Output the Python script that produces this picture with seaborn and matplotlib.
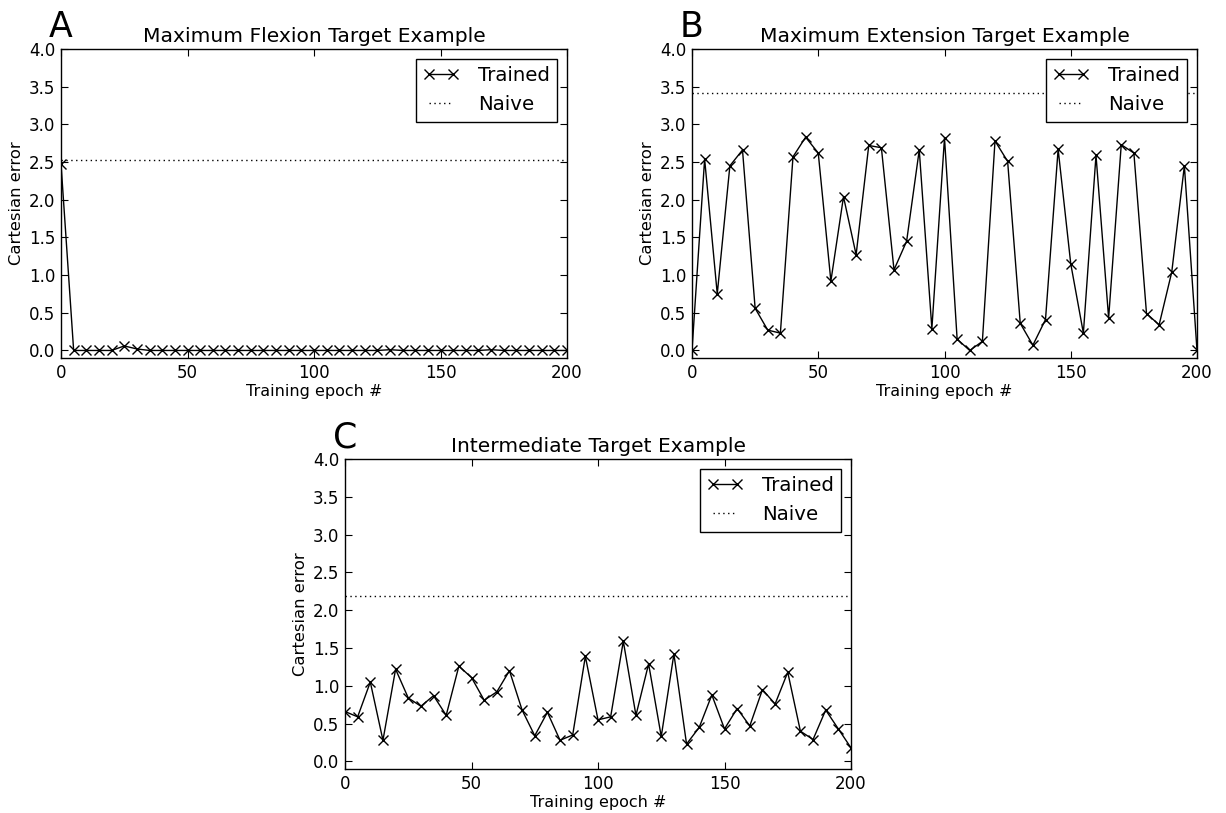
import matplotlib
matplotlib.use("Agg")
import matplotlib.pyplot as plt
import numpy as np
import pandas as pd
import seaborn as sns

# training epochs sampled every 5
epochs = list(range(0, 201, 5))

# panel A: maximum flexion target
trained_a = [2.48, 0.0, 0.0, 0.0, 0.0, 0.06, 0.02, 0.0, 0.0, 0.0,
             0.0, 0.0, 0.0, 0.0, 0.0, 0.0, 0.0, 0.0, 0.0, 0.0,
             0.0, 0.0, 0.0, 0.0, 0.0, 0.0, 0.01, 0.0, 0.0, 0.0,
             0.0, 0.0, 0.0, 0.0, 0.01, 0.0, 0.0, 0.0, 0.0, 0.0, 0.0]
naive_a = 2.53

# panel B: maximum extension target
trained_b = [0.0, 2.54, 0.75, 2.45, 2.66, 0.56, 0.27, 0.23, 2.57, 2.83,
             2.62, 0.92, 2.04, 1.27, 2.72, 2.69, 1.07, 1.45, 2.66, 0.29,
             2.82, 0.15, 0.0, 0.12, 2.78, 2.51, 0.36, 0.07, 0.41, 2.67,
             1.15, 0.23, 2.59, 0.43, 2.73, 2.62, 0.49, 0.34, 1.04, 2.45, 0.0]
naive_b = 3.41

# panel C: intermediate target
trained_c = [0.66, 0.59, 1.05, 0.28, 1.22, 0.84, 0.73, 0.87, 0.61, 1.26,
             1.11, 0.81, 0.92, 1.20, 0.68, 0.34, 0.65, 0.28, 0.35, 1.39,
             0.55, 0.59, 1.59, 0.61, 1.29, 0.33, 1.42, 0.23, 0.45, 0.88,
             0.43, 0.70, 0.47, 0.95, 0.76, 1.18, 0.40, 0.29, 0.68, 0.43, 0.18]
naive_c = 2.19

titles = ["Maximum Flexion Target Example",
          "Maximum Extension Target Example",
          "Intermediate Target Example"]
letters = ["A", "B", "C"]

sns.set_style("ticks")
plt.rcParams["font.family"] = ["DejaVu Sans"]
plt.rcParams["text.color"] = "black"
plt.rcParams["axes.labelcolor"] = "black"

W, H = 1226, 813
fig = plt.figure(figsize=(W / 100, H / 100), dpi=100)


def px_axes(left, top, right, bottom):
    return fig.add_axes([left / W, 1 - bottom / H, (right - left) / W, (bottom - top) / H])


boxes = [(61, 49, 567, 358), (692, 49, 1197, 358), (345, 459, 851, 769)]
series = [trained_a, trained_b, trained_c]
naives = [naive_a, naive_b, naive_c]

for box, ttl, letter, trained, naive in zip(boxes, titles, letters, series, naives):
    ax = px_axes(*box)
    df = pd.DataFrame({"epoch": epochs, "error": trained})
    sns.lineplot(data=df, x="epoch", y="error", ax=ax, color="black", lw=1.0,
                 marker="x", markersize=7, markeredgewidth=1.0,
                 markeredgecolor="black", markerfacecolor="black", label="Trained")
    ax.axhline(naive, color="black", ls=(0, (1, 2.5)), lw=1.0, label="Naive")
    ax.set_xlim(0, 200)
    ax.set_ylim(-0.1, 4.0)
    ax.set_xticks([0, 50, 100, 150, 200])
    ax.set_yticks(np.arange(0, 4.01, 0.5))
    ax.yaxis.set_major_formatter(matplotlib.ticker.FormatStrFormatter("%.1f"))
    ax.tick_params(direction="in", top=True, right=True, length=5, width=0.8,
                   labelsize=12, colors="black", pad=4)
    for s in ax.spines.values():
        s.set_linewidth(1.0)
        s.set_color("black")
    ax.set_title(ttl, fontsize=14.6, pad=5)
    ax.set_xlabel("Training epoch #", fontsize=11.5, labelpad=2)
    ax.set_ylabel("Cartesian error", fontsize=11.8, labelpad=4)
    leg = ax.legend(loc="upper right", fontsize=14.2, numpoints=2, fancybox=False,
                    framealpha=1, edgecolor="black", handlelength=1.8,
                    handletextpad=0.95, borderpad=0.38, labelspacing=0.5,
                    borderaxespad=0.5)
    leg.get_frame().set_linewidth(1.0)
    fig.text((box[0] - 12) / W, 1 - (box[1] - 12) / H, letter, fontsize=25,
             ha="left", va="baseline")

fig.savefig("out.png", dpi=100)
